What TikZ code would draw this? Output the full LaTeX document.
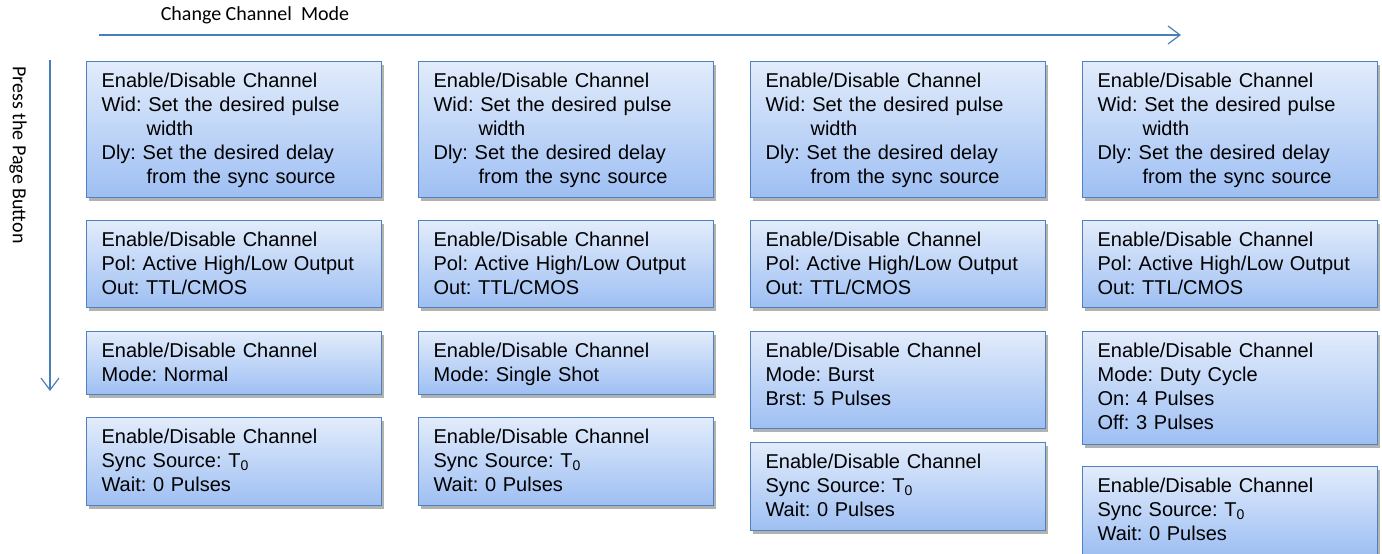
\documentclass[tikz,border=0pt]{standalone}
\usepackage{fontspec}
\setmainfont{Liberation Sans}
\newfontfamily\calibri{Carlito}
\usetikzlibrary{arrows.meta,shadows}
\definecolor{boxtop}{RGB}{226,236,251}
\definecolor{boxbot}{RGB}{158,191,243}
\definecolor{boxline}{RGB}{79,129,189}
\definecolor{arrowblue}{RGB}{74,126,187}
\frenchspacing
\begin{document}
\begin{tikzpicture}[x=1pt,y=-1pt,
	chbox/.style={draw=boxline,line width=1.2pt,top color=boxtop,bottom color=boxbot,
		anchor=north west,text width=265pt,inner xsep=15pt,inner ysep=11pt,
		text height=15pt,align=left,font=\fontsize{20}{24}\selectfont,
		drop shadow={shadow xshift=2pt,shadow yshift=-3pt,opacity=0.3,fill=black}},
	modearrow/.style={draw=arrowblue,line width=1.2pt,-{Straight Barb[length=12pt,width=18pt]}},
	lbl/.style={font=\calibri\fontsize{20}{24}\selectfont}]
		\useasboundingbox (0,0) rectangle (1382,554) ;
		% the two arrows and their labels
		\coordinate (M0) at (99,35) ; \coordinate (M1) at (1181,35) ;
		\coordinate (P0) at (50,60) ; \coordinate (P1) at (50,391) ;
		\draw[modearrow] (M0)--(M1) ;
		\draw[modearrow] (P0)--(P1) ;
		\node[lbl] (mode) at (255,15) {Change Channel~ Mode} ;
		\node[lbl,rotate=-90] (page) at (18,155) {Press the Page Button} ;
		% rows 1 and 2 are the same in every column
		\foreach \c/\x in {1/86,2/418,3/750,4/1082} {
			\node[chbox,text depth=99pt] (wid\c) at (\x,61) {Enable/Disable Channel\\Wid: Set the desired pulse\\\hspace*{45pt}width\\Dly: Set the desired delay\\\hspace*{45pt}from the sync source} ;
			\node[chbox,text depth=50pt] (pol\c) at (\x,220) {Enable/Disable Channel\\Pol: Active High/Low Output\\Out: TTL/CMOS} ;
		}
		% row 3 : the mode
		\node[chbox,text depth=26pt] (mode1) at (86,331) {Enable/Disable Channel\\Mode: Normal} ;
		\node[chbox,text depth=26pt] (mode2) at (418,331) {Enable/Disable Channel\\Mode: Single Shot} ;
		\node[chbox,text depth=60pt] (mode3) at (750,331) {Enable/Disable Channel\\Mode: Burst\\Brst: 5 Pulses} ;
		\node[chbox,text depth=76pt] (mode4) at (1082,331) {Enable/Disable Channel\\Mode: Duty Cycle\\On: 4 Pulses\\Off: 3 Pulses} ;
		% row 4 : the sync source
		\node[chbox,text depth=51pt] (sync1) at (86,417) {Enable/Disable Channel\\Sync Source: T\textsubscript{0}\\Wait: 0 Pulses} ;
		\node[chbox,text depth=51pt] (sync2) at (418,417) {Enable/Disable Channel\\Sync Source: T\textsubscript{0}\\Wait: 0 Pulses} ;
		\node[chbox,text depth=51pt] (sync3) at (750,442) {Enable/Disable Channel\\Sync Source: T\textsubscript{0}\\Wait: 0 Pulses} ;
		\node[chbox,text depth=51pt] (sync4) at (1082,466) {Enable/Disable Channel\\Sync Source: T\textsubscript{0}\\Wait: 0 Pulses} ;
	\end{tikzpicture}
\end{document}
